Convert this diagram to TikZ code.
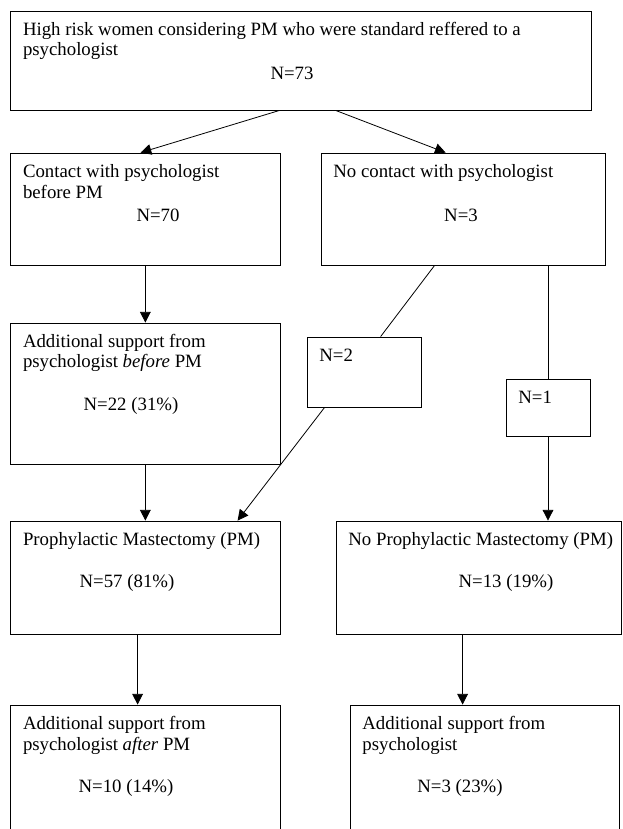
\documentclass[tikz,border=0pt]{standalone}
\usepackage{fontspec}
\setmainfont{Liberation Serif}
\usetikzlibrary{arrows.meta,calc,fit}
\tikzset{
  box/.style={draw, inner sep=0pt, line width=0.6pt},
  txt/.style={anchor=base west, inner sep=0pt, font=\fontsize{14.1}{15.4}\selectfont},
  num/.style={txt, anchor=base},
  arr/.style={-{Triangle[length=8pt,width=8pt]}}
}
\begin{document}
\begin{tikzpicture}[x=0.75pt,y=-0.75pt,line width=0.6pt]
\useasboundingbox (0,0) rectangle (622,829);
\clip (0,0) rectangle (622,829);
\node[box, fit={(10.7,11) (591,110)}] (top) {};
\node[box, fit={(10.7,153) (280,265)}] (contact) {};
\node[box, fit={(321,153) (605,265)}] (nocont) {};
\node[box, fit={(10.7,323) (280,464)}] (addb) {};
\node[box, fit={(307.5,337) (421,407)}] (ntwo) {};
\node[box, fit={(506,379) (590,436)}] (none) {};
\node[box, fit={(10.7,521) (280,634)}] (pm) {};
\node[box, fit={(336.5,521) (621,634)}] (nopm) {};
\node[box, fit={(10.7,705) (280,860)}] (afterpm) {};
\node[box, fit={(350,705) (619,860)}] (psych) {};
\node[txt] (t1) at (22.6,35) {High risk women considering PM who were standard reffered to a};
\node[txt] (t2) at (22.6,55) {psychologist};
\node[num] (n73) at (292,79) {N=73};
\node[txt] (c1) at (22.6,177) {Contact with psychologist};
\node[txt] (c2) at (22.6,198) {before PM};
\node[num] (n70) at (158,221) {N=70};
\node[txt] (nc1) at (333,177) {No contact with psychologist};
\node[num] (n3) at (461,221) {N=3};
\node[txt] (a1) at (22.6,347) {Additional support from};
\node[txt] (a2) at (22.6,367) {psychologist \textit{before} PM};
\node[num] (n22) at (131,410) {N=22 (31\%)};
\node[txt] (n2) at (319,361) {N=2};
\node[txt] (n1) at (518,403) {N=1};
\node[txt] (p1) at (22.6,545) {Prophylactic Mastectomy (PM)};
\node[num] (n57) at (127,587) {N=57 (81\%)};
\node[txt] (np1) at (348,545) {No Prophylactic Mastectomy (PM)};
\node[num] (n13) at (506,587) {N=13 (19\%)};
\node[txt] (b1) at (22.6,729) {Additional support from};
\node[txt] (b2) at (22.6,750) {psychologist \textit{after} PM};
\node[num] (n10) at (126,792) {N=10 (14\%)};
\node[txt] (r1) at (362,729) {Additional support from};
\node[txt] (r2) at (362,750) {psychologist};
\node[num] (n3b) at (460,792) {N=3 (23\%)};
\draw[arr] ($(top.south west)+(269.3,0)$) -- ($(contact.north west)+(130.3,0)$);
\draw[arr] ($(top.south west)+(325.3,0)$) -- ($(nocont.north west)+(125,0)$);
\draw[arr] (contact.south) -- (addb.north);
\draw ($(nocont.south west)+(114,0)$) -- ($(ntwo.north west)+(73.5,0)$);
\draw[arr] ($(ntwo.south west)+(17.5,0)$) -- ($(pm.north west)+(227.3,0)$);
\draw (nocont.south -| none.north) -- (none.north);
\draw[arr] (none.south) -- (nopm.north -| none.south);
\draw[arr] (addb.south) -- (pm.north);
\draw[arr] ($(pm.south west)+(127.3,0)$) -- ($(afterpm.north west)+(127.3,0)$);
\draw[arr] ($(nopm.south west)+(126.5,0)$) -- ($(psych.north west)+(113,0)$);
\end{tikzpicture}
\end{document}
